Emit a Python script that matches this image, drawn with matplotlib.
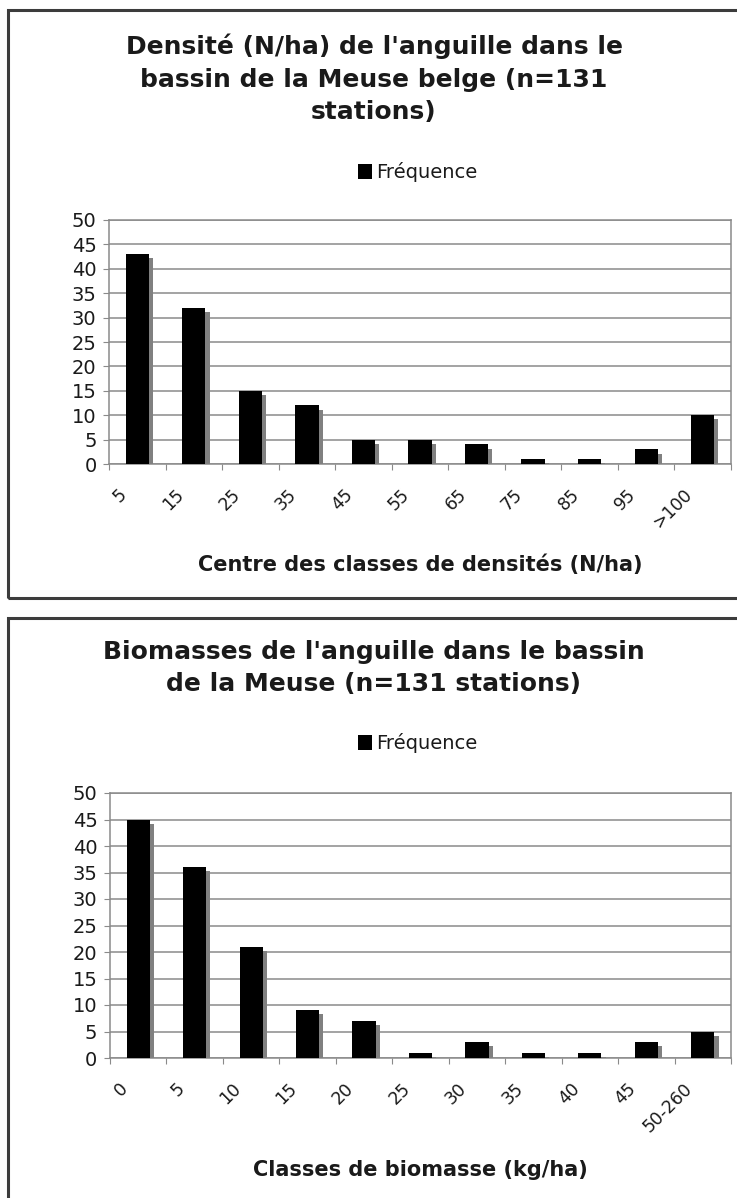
import numpy as np
import matplotlib
matplotlib.use("Agg")
import matplotlib.pyplot as plt
import matplotlib.patheffects as pe
from matplotlib.patches import Rectangle, Patch
from matplotlib.transforms import ScaledTranslation

# Densité : centre des classes (N/ha) et fréquences
dens_classes = ['5', '15', '25', '35', '45', '55', '65', '75', '85', '95', '>100']
dens_freq = [43, 32, 15, 12, 5, 5, 4, 1, 1, 3, 10]

# Biomasse : classes (kg/ha) et fréquences
bio_classes = ['0', '5', '10', '15', '20', '25', '30', '35', '40', '45', '50-260']
bio_freq = [45, 36, 21, 9, 7, 1, 3, 1, 1, 3, 5]

W, H = 737, 1198
fig = plt.figure(figsize=(W / 100, H / 100), dpi=100)
fig.patch.set_facecolor('white')

TXT = '#1a1a1a'
GRID = '#8a8a8a'


def px_x(x):
    return x / W


def px_y(y):
    return 1 - y / H


def panel(y_top, y_bot):
    # cadre du graphique (dépasse à droite / en bas comme dans la feuille)
    r = Rectangle((px_x(8), px_y(y_bot)), px_x(740) - px_x(8), px_y(y_top) - px_y(y_bot),
                  transform=fig.transFigure, fill=False, edgecolor='#3c3c3c', lw=2.2)
    fig.add_artist(r)


def histo(ax, classes, freq, xlabel, label_y):
    x = np.arange(len(classes))
    bars = ax.bar(x, freq, width=0.41, color='black', zorder=3)
    for b in bars:
        b.set_path_effects([pe.SimplePatchShadow(offset=(3, -3), shadow_rgbFace='#808080', alpha=1.0),
                            pe.Normal()])

    ax.set_xlim(-0.5, len(classes) - 0.5)
    ax.set_ylim(0, 50)
    ax.set_yticks(np.arange(0, 51, 5))
    ax.yaxis.grid(True, color=GRID, lw=1.1, zorder=0)
    ax.set_axisbelow(True)
    for s in ax.spines.values():
        s.set_color(GRID)
        s.set_linewidth(1.1)

    # graduations entre les classes, étiquettes au centre
    ax.set_xticks(np.arange(-0.5, len(classes), 1))
    ax.set_xticklabels([])
    ax.tick_params(axis='x', which='major', length=4.5, color=GRID, direction='out')
    ax.set_xticks(x, minor=True)
    ax.set_xticklabels(classes, minor=True, rotation=45, ha='right', va='center',
                       rotation_mode='anchor', fontsize=12.5, color=TXT)
    ax.tick_params(axis='x', which='minor', length=0, pad=20)
    shift = ScaledTranslation(-0.13, 0, fig.dpi_scale_trans)
    for lab in ax.get_xticklabels(minor=True):
        lab.set_transform(lab.get_transform() + shift)

    ax.tick_params(axis='y', length=4, color=GRID, labelsize=14, labelcolor=TXT, pad=5)

    ax.set_xlabel(xlabel, fontsize=15, fontweight='bold', color=TXT)
    ax.xaxis.set_label_coords(0.5, label_y)
    ax.xaxis.label.set_va('center')


# --- Densité ---
panel(10, 598)
fig.text(px_x(374), px_y(79), "Densité (N/ha) de l'anguille dans le\nbassin de la Meuse belge (n=131\nstations)",
         ha='center', va='center', fontsize=18, fontweight='bold', color=TXT, linespacing=1.45)
ax1 = fig.add_axes([px_x(109), px_y(464), px_x(731) - px_x(109), px_y(220) - px_y(464)])
histo(ax1, dens_classes, dens_freq, 'Centre des classes de densités (N/ha)', -0.414)
fig.legend(handles=[Patch(facecolor='black', label='Fréquence')], loc='center left',
           bbox_to_anchor=(px_x(348), px_y(172)), frameon=False, fontsize=14,
           handlelength=0.75, handleheight=0.85, handletextpad=0.2, borderpad=0, labelcolor=TXT)

# --- Biomasse ---
panel(618, 1260)
fig.text(px_x(374), px_y(668), "Biomasses de l'anguille dans le bassin\nde la Meuse (n=131 stations)",
         ha='center', va='center', fontsize=18, fontweight='bold', color=TXT, linespacing=1.45)
ax2 = fig.add_axes([px_x(110), px_y(1058), px_x(731) - px_x(110), px_y(793) - px_y(1058)])
histo(ax2, bio_classes, bio_freq, 'Classes de biomasse (kg/ha)', -0.423)
fig.legend(handles=[Patch(facecolor='black', label='Fréquence')], loc='center left',
           bbox_to_anchor=(px_x(348), px_y(743)), frameon=False, fontsize=14,
           handlelength=0.75, handleheight=0.85, handletextpad=0.2, borderpad=0, labelcolor=TXT)

fig.savefig('out.png', dpi=100, facecolor='white')
